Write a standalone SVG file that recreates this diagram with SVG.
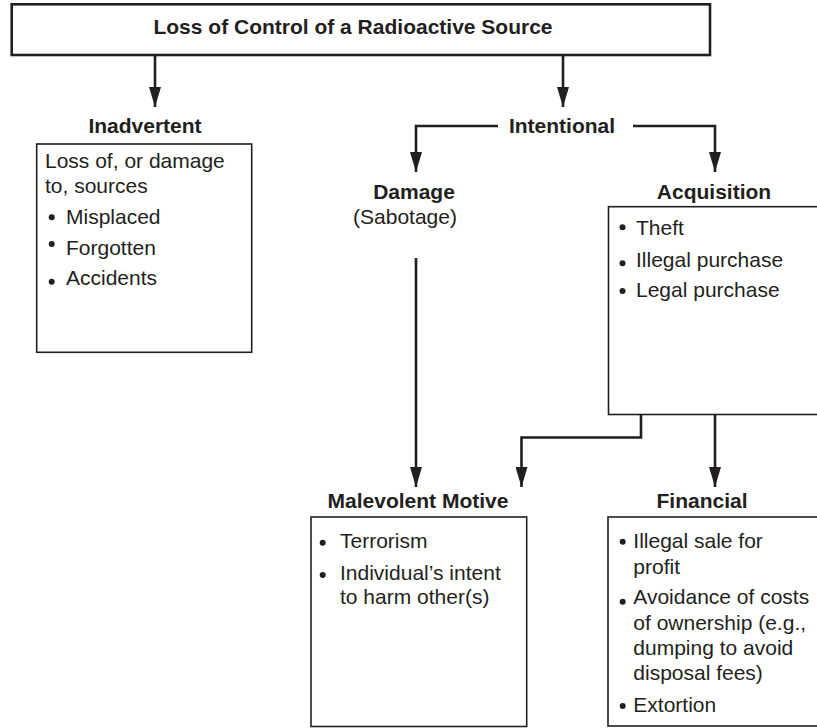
<svg xmlns="http://www.w3.org/2000/svg" width="817" height="728" viewBox="0 0 817 728">
<style>
  .box { fill: #fff; stroke: #231f20; stroke-width: 1.6; }
  .topbox { fill: #fff; stroke: #231f20; stroke-width: 2.6; }
  .conn { fill: none; stroke: #231f20; stroke-width: 2.6; }
  .t { font-family: "Liberation Sans", Arial, Helvetica, sans-serif; fill: #231f20; }
  .b { font-weight: bold; font-size: 21px; text-anchor: middle; }
  .n { font-size: 21px; }
  .dot { fill: #231f20; }
</style>
<defs>
  <marker id="arrow" markerUnits="userSpaceOnUse" markerWidth="20" markerHeight="12" viewBox="0 0 20 12" refX="20" refY="6" orient="auto">
    <path d="M0,0 L20,6 L0,12 z" fill="#231f20"/>
  </marker>
</defs>

<g id="connectors">
  <path class="conn" d="M155,55 V107" marker-end="url(#arrow)"/>
  <path class="conn" d="M563,55 V107" marker-end="url(#arrow)"/>
  <path class="conn" d="M498,126 H416 V172" marker-end="url(#arrow)"/>
  <path class="conn" d="M633,126 H715 V172" marker-end="url(#arrow)"/>
  <path class="conn" d="M416,258 V487" marker-end="url(#arrow)"/>
  <path class="conn" d="M641,415 V437.5 H521.5 V487" marker-end="url(#arrow)"/>
  <path class="conn" d="M715,415 V487" marker-end="url(#arrow)"/>
</g>

<g id="root">
  <rect class="topbox" x="11.7" y="4.3" width="698.3" height="50.7"/>
  <text class="t b" x="353" y="33.5">Loss of Control of a Radioactive Source</text>
</g>

<g id="intentional">
  <text class="t b" x="562" y="132.7">Intentional</text>
</g>

<g id="inadvertent">
  <text class="t b" x="145" y="133">Inadvertent</text>
  <rect class="box" x="36.7" y="144" width="215" height="208.3"/>
  <text class="t n" x="45" y="168.3">Loss of, or damage</text>
  <text class="t n" x="45" y="193.3">to, sources</text>
  <circle class="dot" cx="51.7" cy="217.3" r="3"/>
  <text class="t n" x="66" y="224">Misplaced</text>
  <circle class="dot" cx="51.7" cy="244" r="3"/>
  <text class="t n" x="66" y="255">Forgotten</text>
  <circle class="dot" cx="51.7" cy="281.7" r="3"/>
  <text class="t n" x="66" y="285">Accidents</text>
</g>

<g id="damage">
  <text class="t b" x="414" y="199">Damage</text>
  <text class="t n" x="405" y="224" text-anchor="middle">(Sabotage)</text>
</g>

<g id="acquisition">
  <text class="t b" x="714" y="199">Acquisition</text>
  <rect class="box" x="608.5" y="206.7" width="212" height="207.8"/>
  <circle class="dot" cx="622.5" cy="227.3" r="3"/>
  <text class="t n" x="636" y="235">Theft</text>
  <circle class="dot" cx="622.5" cy="263.3" r="3"/>
  <text class="t n" x="636" y="266.7">Illegal purchase</text>
  <circle class="dot" cx="622.5" cy="291" r="3"/>
  <text class="t n" x="636" y="296.7">Legal purchase</text>
</g>

<g id="malevolent">
  <text class="t b" x="418" y="507.5">Malevolent Motive</text>
  <rect class="box" x="311" y="517" width="215.7" height="209.5"/>
  <circle class="dot" cx="322.7" cy="542.7" r="3"/>
  <text class="t n" x="340" y="548">Terrorism</text>
  <circle class="dot" cx="322.7" cy="575" r="3"/>
  <text class="t n" x="340" y="580">Individual’s intent</text>
  <text class="t n" x="340" y="604">to harm other(s)</text>
</g>

<g id="financial">
  <text class="t b" x="702" y="507.5">Financial</text>
  <rect class="box" x="608" y="517" width="212" height="209"/>
  <circle class="dot" cx="622.7" cy="541.7" r="3"/>
  <text class="t n" x="633.3" y="548">Illegal sale for</text>
  <text class="t n" x="633.3" y="574">profit</text>
  <circle class="dot" cx="622.7" cy="601.7" r="3"/>
  <text class="t n" x="633.3" y="604">Avoidance of costs</text>
  <text class="t n" x="633.3" y="630">of ownership (e.g.,</text>
  <text class="t n" x="633.3" y="655">dumping to avoid</text>
  <text class="t n" x="633.3" y="680">disposal fees)</text>
  <circle class="dot" cx="622.7" cy="706" r="3"/>
  <text class="t n" x="633.3" y="711.7">Extortion</text>
</g>
</svg>
